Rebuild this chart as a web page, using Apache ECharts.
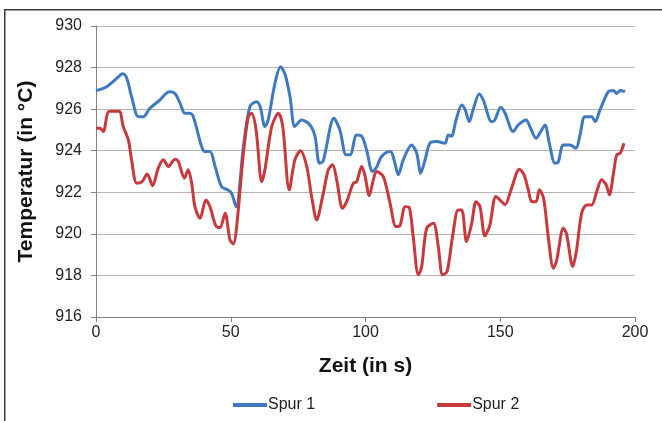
<!DOCTYPE html>
<html><head><meta charset="utf-8">
<script src="https://cdn.jsdelivr.net/npm/echarts@6/dist/echarts.min.js"></script>
<style>html,body{margin:0;padding:0;background:#fff}#c{width:662px;height:421px}</style>
</head><body><div id="c"></div>
<script>
const seriesNames = ['Spur 1', 'Spur 2'];
const xTicks = [0, 50, 100, 150, 200];
const yTicks = [916, 918, 920, 922, 924, 926, 928, 930];

const t1 = [0,4,7,10,11.4,13.2,15.7,17.6,20,23.7,27.2,29.3,31.2,33,34.9,36.1,39.2,40.4,42.3,44.2,46.6,49.1,50.3,52,54.7,57.1,59.6,60.9,62.7,63.9,66.4,68.5,70.1,72,73.8,76.3,79.4,81.3,82.9,84.3,88.3,90.5,92.8,94.3,96.7,98.6,100.4,102.6,104.1,105.4,107.2,109.3,110.6,112.2,114,117.1,119,120.5,122.1,123.9,126.4,129.5,130.7,131.9,133.6,135.7,137,138.5,139.9,142.2,143.7,146.8,148,150.2,151.8,154.8,156.7,159.6,161,163.3,165,166.6,168.2,170.3,171.5,173.4,175.9,178.1,179.6,181.4,183.9,185.2,187,190.1,192,193.2,194.5,196.3];
const v1 = [926.89,927.08,927.4,927.7,927.5,926.6,925.64,925.64,926.04,926.44,926.84,926.75,926.28,925.8,925.8,925.64,924.2,923.96,923.96,923.24,922.27,922.1,921.96,921.3,924.2,926.12,926.36,926.12,925.16,925.48,927.24,928.04,927.7,926.6,925.16,925.48,925.24,924.68,923.4,923.5,925.56,925.0,923.8,923.8,924.76,924.7,924.04,923.0,923.2,923.6,923.88,923.96,923.56,922.84,923.56,924.28,923.88,922.92,923.56,924.36,924.44,924.36,924.76,924.7,925.48,926.2,925.96,925.4,925.96,926.73,926.44,925.4,925.48,926.09,925.8,924.92,925.24,925.48,925.16,924.6,924.92,925.24,924.36,923.4,923.45,924.28,924.28,924.12,924.76,925.64,925.64,925.4,925.96,926.84,926.9,926.75,926.9,926.84];

const t2 = [0,1.5,2.7,4.6,6.4,8.6,10.1,12,13.2,15.1,17,19,21,23.1,25,26.9,29.3,30.5,32.8,34.2,35.5,36.7,38.6,40.8,42.3,44.5,46,47.9,49.7,51,52.2,54.7,56.5,57.7,59.4,61.5,62.7,65.2,67.7,69.3,71.7,73.8,75.9,78.2,80,81.9,84.1,86.2,87.8,89.3,91.5,93,95.5,96.7,98.6,99.8,101.4,102.9,104.1,106.6,109.1,111.3,112.8,114.7,116.3,117.7,119.6,120.8,122.7,125.2,127,128.6,130.3,132.3,134.4,135.7,137.5,139.4,141,142.5,144.3,146.1,148.4,150.5,151.8,154.2,157.1,158.8,160.4,161.7,163.3,164.5,166.1,167.8,169.7,170.9,173.4,174.6,176.9,178.3,180.2,182.1,183.9,185.8,187.6,189.3,190.5,192,193.2,194.5,195.9];
const v2 = [925.08,925.08,924.92,925.88,925.9,925.9,925.16,924.52,923.56,922.44,922.5,922.88,922.32,923.16,923.56,923.24,923.59,923.5,922.68,923.08,922.44,921.31,920.75,921.63,921.3,920.38,920.3,920.99,919.71,919.52,920.35,923.88,925.64,925.8,925.0,922.51,923.1,925.16,925.8,925.16,922.12,923.56,924.0,923.24,921.8,920.67,921.8,923.08,923.32,922.6,921.23,921.55,922.44,922.5,923.24,922.8,921.84,922.6,923.0,922.76,921.48,920.35,920.4,921.31,921.25,919.87,918.03,918.4,920.27,920.51,919.39,918.03,918.2,919.87,921.15,921.15,919.63,920.5,921.55,921.3,919.9,920.4,921.8,921.55,921.4,922.2,923.11,922.85,922.12,921.55,921.55,922.12,921.7,919.87,918.35,918.7,920.27,920.0,918.43,919.2,920.99,921.39,921.39,922.03,922.6,922.36,921.88,922.9,923.8,923.88,924.36];

const colors = ['#3f79c0', '#c8393b'];
const font = '"Liberation Sans", Arial, sans-serif';
const pair = (t, v) => t.map((x, i) => [x, v[i]]);

const chart = echarts.init(document.getElementById('c'), null, {renderer: 'canvas'});
chart.setOption({
  animation: false,
  backgroundColor: '#fff',
  graphic: [{
    type: 'rect', left: 4, top: 9, z: -1,
    shape: {width: 700, height: 500},
    style: {fill: '#fff', stroke: '#3a3a3a', lineWidth: 1.5}
  }],
  grid: {left: 96, right: 27, top: 26, bottom: 104},
  legend: {
    data: seriesNames, bottom: 3, left: 228, itemGap: 122,
    icon: 'rect', itemWidth: 34, itemHeight: 4,
    textStyle: {fontFamily: font, fontSize: 16, color: '#222', padding: [0, 0, 0, -4]}
  },
  xAxis: {
    type: 'value', min: xTicks[0], max: xTicks[xTicks.length - 1], interval: 50,
    name: 'Zeit (in s)', nameLocation: 'middle', nameGap: 39,
    nameTextStyle: {fontFamily: font, fontSize: 21, fontWeight: 'bold', color: '#111'},
    axisLine: {lineStyle: {color: '#8a7f7b', width: 1}},
    axisTick: {show: true, inside: false, length: 5, lineStyle: {color: '#8a7f7b'}},
    axisLabel: {fontFamily: font, fontSize: 16, color: '#222', margin: 8},
    splitLine: {show: false}
  },
  yAxis: {
    type: 'value', min: yTicks[0], max: yTicks[yTicks.length - 1], interval: 2,
    name: 'Temperatur (in °C)', nameLocation: 'middle', nameGap: 59,
    nameTextStyle: {fontFamily: font, fontSize: 21, fontWeight: 'bold', color: '#111'},
    axisLine: {show: true, lineStyle: {color: '#8a7f7b', width: 1}},
    axisTick: {show: true, inside: false, length: 5, lineStyle: {color: '#8a7f7b'}},
    axisLabel: {fontFamily: font, fontSize: 16, color: '#222', margin: 14},
    splitLine: {show: true, lineStyle: {color: '#bdb3ae', width: 1.2}}
  },
  series: [
    {name: seriesNames[0], type: 'line', data: pair(t1, v1), smooth: 0.3, showSymbol: false,
     lineStyle: {color: colors[0], width: 3}, itemStyle: {color: colors[0]}},
    {name: seriesNames[1], type: 'line', data: pair(t2, v2), smooth: 0.3, showSymbol: false,
     lineStyle: {color: colors[1], width: 3}, itemStyle: {color: colors[1]}}
  ]
});
</script></body></html>
